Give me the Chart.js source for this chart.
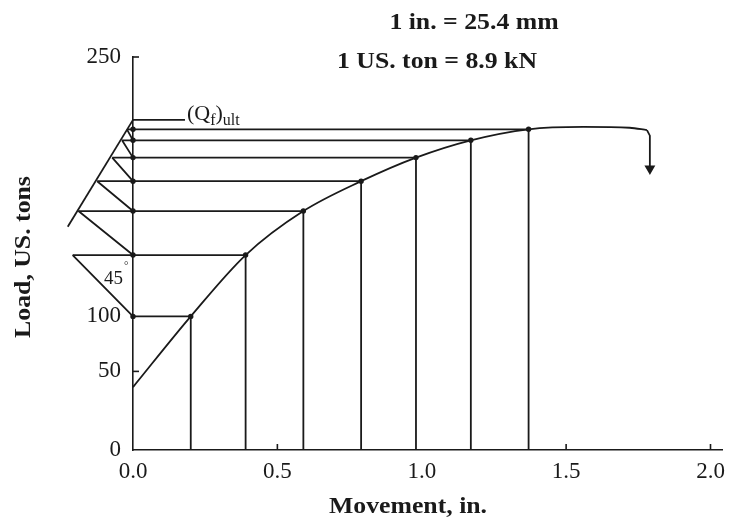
<!DOCTYPE html>
<html><head><meta charset="utf-8">
<script src="https://cdn.jsdelivr.net/npm/chart.js@4/dist/chart.umd.min.js"></script>
<style>html,body{margin:0;padding:0;background:#fff;}#wrap{width:733px;height:526px;}</style>
</head><body><div id="wrap"><canvas id="c" width="733" height="526"></canvas></div>
<script>
// ---- data ----
const movement = [0, 0.2, 0.39, 0.59, 0.79, 0.98, 1.17, 1.37];     // in.
const load     = [40, 85, 124, 152, 171, 186, 197, 204];            // US tons
const plateauMovement = [1.56, 1.72, 1.78];
const plateauLoad     = [205.5, 205, 203.5];
const dropMovement = [1.78, 1.79, 1.79];
const dropLoad     = [203.5, 200, 179];
// left ends of the horizontal construction lines (levels load[1]..load[7])
const leftEnds = [0, -0.209, -0.189, -0.124, -0.072, -0.038, -0.021];
const qUlt = 210;
const qUltLineEnd = 0.18;
const tiltMovement = [0, -0.226];
const tiltLoad     = [210, 142];
const dotMovement = [-0.244, -0.271, -0.292];
const dotLoad     = [136, 129, 123];
const xTickValues = [0, 0.5, 1.0, 1.5, 2.0];
const yTickValues = [0, 50, 85, 250];
const yTickLabels = ['0', '50', '100', '250'];
const xMin = 0, xMax = 2.04, yMin = 0, yMax = 250;

// ---- build datasets ----
const INK = '#1a1a1a';
const curve = movement.map((m, i) => ({x: m, y: load[i]}))
  .concat(plateauMovement.map((m, i) => ({x: m, y: plateauLoad[i]})));
const drop = dropMovement.map((m, i) => ({x: m, y: dropLoad[i]}));
const verticals = [];
const horizontals = [];
const diagonals = [];
const nodes = [];
for (let i = 1; i < movement.length; i++) {
  verticals.push({x: movement[i], y: 0}, {x: movement[i], y: load[i]}, {x: movement[i], y: null});
  horizontals.push({x: movement[i], y: load[i]}, {x: leftEnds[i - 1], y: load[i]}, {x: leftEnds[i - 1], y: null});
  nodes.push({x: movement[i], y: load[i]}, {x: 0, y: load[i]});
  if (i < movement.length - 1) {
    diagonals.push({x: 0, y: load[i]}, {x: leftEnds[i], y: load[i + 1]}, {x: leftEnds[i], y: null});
  }
}
const tilt = tiltMovement.map((m, i) => ({x: m, y: tiltLoad[i]}));
const qLine = [{x: 0, y: qUlt}, {x: qUltLineEnd, y: qUlt}];
const dots = dotMovement.map((m, i) => ({x: m, y: dotLoad[i]}));

function lineDs(data, extra) {
  return Object.assign({
    data, borderColor: INK, borderWidth: 1.8, pointRadius: 0, tension: 0,
    spanGaps: false, clip: false, fill: false
  }, extra || {});
}

const FONT = 'Liberation Serif, Times New Roman, serif';

const decor = {
  id: 'decor',
  afterDraw(chart) {
    const ctx = chart.ctx;
    const xs = chart.scales.x, ys = chart.scales.y;
    ctx.save();
    ctx.strokeStyle = INK; ctx.lineWidth = 1.6;
    [0.5, 1.5, 2.0].forEach(v => {
      const px = xs.getPixelForValue(v);
      ctx.beginPath(); ctx.moveTo(px, ys.bottom); ctx.lineTo(px, ys.bottom - 6); ctx.stroke();
    });
    [50, 250].forEach(v => {
      const py = ys.getPixelForValue(v);
      ctx.beginPath(); ctx.moveTo(xs.left, py); ctx.lineTo(xs.left + 6, py); ctx.stroke();
    });
    ctx.restore();
    function txt(t, x, y, font, sx, rot, align, base) {
      ctx.save(); ctx.translate(x, y); if (rot) ctx.rotate(rot); ctx.scale(sx || 1, 1);
      ctx.font = font; ctx.fillStyle = INK; ctx.textAlign = align || 'center';
      ctx.textBaseline = base || 'middle'; ctx.fillText(t, 0, 0); ctx.restore();
    }
    txt('1 in. = 25.4 mm', 474, 23, 'bold 23px ' + FONT, 1.12);
    txt('1 US. ton = 8.9 kN', 437, 62, 'bold 23px ' + FONT, 1.12);
    txt('Load, US. tons', 24, 257, 'bold 23px ' + FONT, 1.12, -Math.PI / 2);
    txt('Movement, in.', 408, 507, 'bold 23px ' + FONT, 1.12);
    ctx.save(); ctx.fillStyle = INK; ctx.textBaseline = 'alphabetic'; ctx.textAlign = 'left';
    let x = 187;
    const big = '22px ' + FONT, small = '16px ' + FONT;
    ctx.font = big; ctx.fillText('(Q', x, 120); x += ctx.measureText('(Q').width;
    ctx.font = small; ctx.fillText('f', x, 125); x += ctx.measureText('f').width;
    ctx.font = big; ctx.fillText(')', x, 120); x += ctx.measureText(')').width;
    ctx.font = small; ctx.fillText('ult', x, 125);
    ctx.font = '19px ' + FONT; ctx.fillText('45', 104, 284);
    ctx.font = '11px ' + FONT; ctx.fillText('°', 124, 269);
    ctx.restore();
  }
};

new Chart(document.getElementById('c'), {
  type: 'line',
  data: {
    datasets: [
      lineDs(curve, {cubicInterpolationMode: 'monotone'}),
      lineDs(drop, {pointRadius: [0, 0, 4.5], pointStyle: 'triangle', rotation: 180,
        pointBackgroundColor: INK, pointBorderColor: INK}),
      lineDs(verticals),
      lineDs(horizontals),
      lineDs(diagonals),
      lineDs(tilt),
      lineDs(qLine),
      lineDs(dots, {showLine: false, pointRadius: 1.3, pointBackgroundColor: INK, pointBorderColor: INK}),
      lineDs(nodes, {showLine: false, pointRadius: 1.8, pointBackgroundColor: INK, pointBorderColor: INK})
    ]
  },
  options: {
    responsive: false, animation: false, devicePixelRatio: 1,
    layout: {padding: {left: 0, right: 5, top: 57, bottom: 0}},
    plugins: {legend: {display: false}, tooltip: {enabled: false}, title: {display: false}},
    scales: {
      x: {
        type: 'linear', position: 'bottom', bounds: 'data',
        afterDataLimits(s) { s.min = xMin; s.max = xMax; },
        afterBuildTicks(s) { s.ticks = xTickValues.map(v => ({value: v})); },
        afterFit(s) { s.height = 76; },
        grid: {display: false, drawTicks: false},
        border: {display: true, color: INK, width: 1.6},
        ticks: {padding: 8, color: INK, font: {family: FONT, size: 23},
          maxRotation: 0, autoSkip: false, callback: v => Number(v).toFixed(1)}
      },
      y: {
        type: 'linear', position: 'left', min: yMin, max: yMax, bounds: 'data',
        afterBuildTicks(s) { s.ticks = yTickValues.map(v => ({value: v})); },
        afterFit(s) { s.width = 133; },
        grid: {display: false, drawTicks: false},
        border: {display: true, color: INK, width: 1.6},
        ticks: {padding: 12, color: INK, font: {family: FONT, size: 23}, autoSkip: false,
          callback: (v, i) => yTickLabels[i]}
      }
    }
  },
  plugins: [decor]
});
</script></body></html>
